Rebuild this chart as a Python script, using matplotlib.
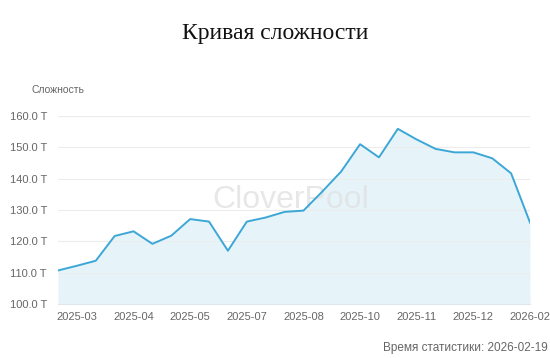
import matplotlib
matplotlib.use("Agg")
import matplotlib.pyplot as plt

categories = ["2025-02", "2025-03", "2025-03", "2025-04", "2025-04", "2025-05",
              "2025-05", "2025-05", "2025-06", "2025-06", "2025-07", "2025-07",
              "2025-08", "2025-08", "2025-09", "2025-09", "2025-10", "2025-10",
              "2025-11", "2025-11", "2025-11", "2025-12", "2025-12", "2026-01",
              "2026-01", "2026-02"]
difficulty = [110.7, 112.2, 113.8, 121.7, 123.2, 119.2, 121.8, 127.1, 126.3, 117.0,
              126.3, 127.6, 129.4, 129.8, 135.9, 142.3, 151.0, 146.8, 155.9, 152.5,
              149.5, 148.4, 148.4, 146.5, 141.7, 126.0]
y_ticks = [100, 110, 120, 130, 140, 150, 160]

title = "Кривая сложности"
y_name = "Сложность"
footer = "Время статистики: 2026-02-19"
watermark = "CloverPool"

plt.rcParams['font.family'] = ['Liberation Sans', 'DejaVu Sans']

fig = plt.figure(figsize=(5.5, 3.58), dpi=100)
ax = fig.add_axes([58/550, 1-304/358, (530-58)/550, (304-116)/358])

x = list(range(len(difficulty)))
ax.fill_between(x, difficulty, 100, color="#e6f4fa", zorder=1, linewidth=0)
ax.plot(x, difficulty, color="#3ca7d6", linewidth=1.4, zorder=3)

ax.set_xlim(0, len(difficulty) - 1)
ax.set_ylim(100, 160)
ax.set_yticks(y_ticks)
ax.set_yticklabels([f"{v:.1f} T" for v in y_ticks])
tick_idx = list(range(1, len(categories), 3))
ax.set_xticks(tick_idx)
ax.set_xticklabels([categories[i] for i in tick_idx])

ax.grid(axis='y', color="#ececec", linewidth=0.8, zorder=0)
for s in ['top', 'right', 'left']:
    ax.spines[s].set_visible(False)
ax.spines['bottom'].set_color("#e0e6ee")
ax.tick_params(axis='both', length=0, labelsize=8, labelcolor="#666666")
ax.tick_params(axis='y', pad=8)
ax.tick_params(axis='x', pad=6)

ax.text(0.494, 0.553, watermark, transform=ax.transAxes, fontsize=23,
        color="#e2e2e2", ha='center', va='center', zorder=2, alpha=0.8)

fig.text(0.5, 1-33/358, title, ha='center', va='center', fontsize=17,
         family=['Liberation Serif', 'DejaVu Serif'], color="#111111")
fig.text(32/550, 1-90/358, y_name, ha='left', va='center', fontsize=7.5, color="#666666")
fig.text(548/550, 1-348/358, footer, ha='right', va='center', fontsize=8.5, color="#666666")

fig.savefig("out.png", dpi=100)
